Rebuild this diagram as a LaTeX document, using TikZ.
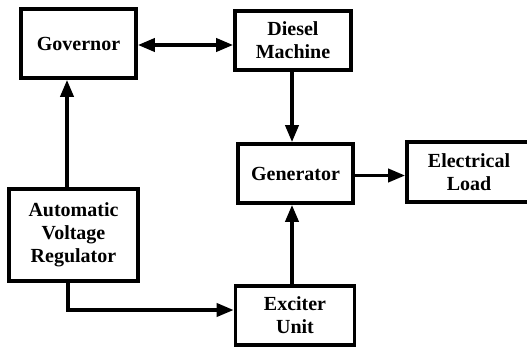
\documentclass[tikz,border=0pt]{standalone}
\usepackage{fontspec}
\setmainfont{Liberation Serif}
\usetikzlibrary{positioning, arrows.meta, calc}
\tikzset{
    block/.style={rectangle, draw=black, fill=white, align=center, font=\fontsize{20}{23}\selectfont\bfseries, line width=3.6pt, inner sep=2pt},
    arr/.style={-{Triangle[length=17pt, width=13pt]}, line width=3.6pt, color=black},
    arrboth/.style={{Triangle[length=17pt, width=13pt]}-{Triangle[length=17pt, width=13pt]}, line width=3.6pt, color=black}
}
\begin{document}
\begin{tikzpicture}[x=1pt, y=-1pt]
    \useasboundingbox (0,0) rectangle (527,349);

    % Blocks
    \node[block, minimum width=115pt, minimum height=69pt] (gov) at (78.5, 43.5) {Governor};
    \node[block, minimum width=116pt, minimum height=59pt] (diesel) at (293, 40.5) {Diesel\\Machine};
    \node[block, minimum width=115pt, minimum height=59pt] (gen) at (295.5, 173.5) {Generator};
    \node[block, minimum width=124pt, minimum height=60pt] (load) at (469, 172) {Electrical\\Load};
    \node[block, minimum width=129pt, minimum height=92pt] (avr) at (73.5, 235) {Automatic\\Voltage\\Regulator};
    \node[block, minimum width=119pt, minimum height=59pt] (exc) at (295, 315.5) {Exciter\\Unit};

    % Connections
    \draw[arrboth] ([yshift=-1.5pt]gov.east) -- ([yshift=-1.5pt]gov.east -| diesel.west);
    \draw[arr] ([xshift=-1pt]diesel.south) -- ([xshift=-1pt]diesel.south |- gen.north);
    \draw[arr] ([yshift=-2pt]gen.east) -- ([yshift=-2pt]gen.east -| load.west);
    \draw[arr] ([xshift=-3pt]exc.north) -- ([xshift=-3pt]exc.north |- gen.south);
    \draw[arr] ([xshift=-6.5pt]avr.north) -- ([xshift=-6.5pt]avr.north |- gov.south);
    \draw[arr] ([xshift=-5.5pt]avr.south) |- ([yshift=5.5pt]exc.west);
\end{tikzpicture}
\end{document}
